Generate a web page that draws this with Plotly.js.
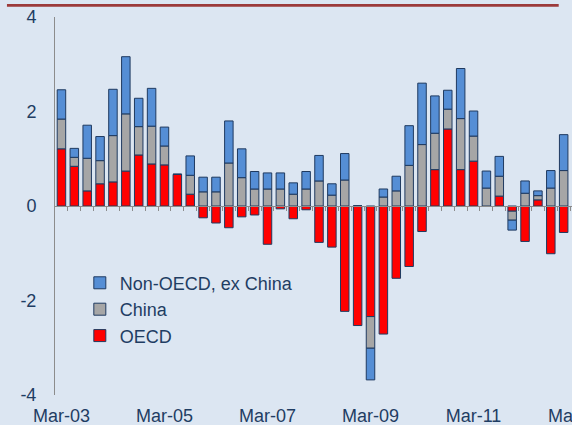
<!DOCTYPE html>
<html>
<head>
<meta charset="utf-8">
<script src="https://cdn.plot.ly/plotly-3.0.1.min.js"></script>
<style>
  html, body { margin: 0; padding: 0; overflow: hidden; background: #DCE6F2; }
  #chart { width: 600px; height: 425px; }
</style>
</head>
<body>
<div id="chart"></div>
<script>
const quarters = ['Mar-03','Jun-03','Sep-03','Dec-03','Mar-04','Jun-04','Sep-04','Dec-04',
  'Mar-05','Jun-05','Sep-05','Dec-05','Mar-06','Jun-06','Sep-06','Dec-06',
  'Mar-07','Jun-07','Sep-07','Dec-07','Mar-08','Jun-08','Sep-08','Dec-08',
  'Mar-09','Jun-09','Sep-09','Dec-09','Mar-10','Jun-10','Sep-10','Dec-10',
  'Mar-11','Jun-11','Sep-11','Dec-11','Mar-12','Jun-12','Sep-12','Dec-12'];

const oecd = [1.21, 0.84, 0.32, 0.47, 0.51, 0.74, 1.08, 0.89, 0.87, 0.67,
  0.25, -0.25, -0.36, -0.46, -0.23, -0.19, -0.81, -0.06, -0.27, -0.08,
  -0.77, -0.87, -2.23, -2.53, -2.34, -2.71, -1.53, -1.28, -0.54, 0.77,
  1.63, 0.77, 0.95, -0.01, 0.21, -0.11, -0.75, 0.13, -1.01, -0.56];

const china = [0.63, 0.19, 0.69, 0.49, 0.98, 1.21, 0.60, 0.80, 0.40, 0,
  0.40, 0.30, 0.30, 0.91, 0.60, 0.36, 0.36, 0.36, 0.25, 0.36,
  0.53, 0.23, 0.55, 0, -0.67, 0.19, 0.32, 0.86, 1.30, 0.77,
  0.42, 1.08, 0.53, 0.38, 0.42, -0.19, 0.27, 0.09, 0.38, 0.75];

const nonOecd = [0.62, 0.19, 0.70, 0.51, 0.98, 1.21, 0.60, 0.80, 0.40, 0,
  0.41, 0.31, 0.31, 0.89, 0.61, 0.37, 0.34, 0.34, 0.24, 0.37,
  0.54, 0.24, 0.56, 0, -0.67, 0.17, 0.31, 0.84, 1.30, 0.79,
  0.40, 1.06, 0.53, 0.36, 0.42, -0.21, 0.26, 0.10, 0.37, 0.76];

const tickLabels = ['Mar-03','Mar-05','Mar-07','Mar-09','Mar-11','Mar-13'];
const tickPositions = [0, 8, 16, 24, 32, 40];
const yTicks = [-4, -2, 0, 2, 4];
const yTickLabels = ['-4', '-2', '0', '2', '4'];

const xIdx = quarters.map((q, i) => i);
const boundaryTicks = quarters.map((q, i) => i + 0.5);

const textColor = '#1F3D63';
const outline = '#1F3A60';
const font = { family: 'Liberation Sans, Arial, sans-serif', size: 18, color: textColor };

function barTrace(name, values, color, rank) {
  return {
    type: 'bar', name: name, legendgroup: name, legendrank: rank,
    x: xIdx, y: values, customdata: quarters,
    marker: { color: color, line: { color: outline, width: 1 } },
    hovertemplate: '%{customdata}: %{y}<extra></extra>'
  };
}

const data = [
  barTrace('OECD', oecd, '#FF0000', 3),
  barTrace('China', china, '#A6A6A6', 2),
  barTrace('Non-OECD, ex China', nonOecd, '#558ED5', 1),
  { type: 'scatter', mode: 'markers', x: [0], y: [0], xaxis: 'x2', yaxis: 'y',
    marker: { opacity: 0 }, showlegend: false, hoverinfo: 'skip' }
];

const layout = {
  width: 600, height: 425,
  margin: { l: 55, r: 17, t: 17, b: 30 },
  paper_bgcolor: '#DCE6F2',
  plot_bgcolor: '#DCE6F2',
  font: font,
  barmode: 'relative',
  bargap: 0.34,
  showlegend: true,
  legend: {
    x: 0.047, xanchor: 'left', y: 0.345, yanchor: 'top',
    traceorder: 'grouped', tracegroupgap: 0, bgcolor: 'rgba(0,0,0,0)',
    font: font
  },
  xaxis: {
    range: [-0.5, 40.5], tickmode: 'array', tickvals: tickPositions, ticktext: tickLabels,
    showline: false, showgrid: false, zeroline: false,
    ticks: 'outside', ticklen: 4, tickcolor: 'rgba(0,0,0,0)',
    ticklabeloverflow: 'allow',
    tickfont: font
  },
  xaxis2: {
    overlaying: 'x', anchor: 'free', position: 0.5, range: [-0.5, 40.5],
    tickmode: 'array', tickvals: boundaryTicks, ticks: 'outside', ticklen: 4,
    tickcolor: '#8C8C8C', tickwidth: 1, showticklabels: false,
    showline: true, linecolor: '#8C8C8C', linewidth: 1,
    showgrid: false, zeroline: false
  },
  yaxis: {
    range: [-4, 4], tickmode: 'array', tickvals: yTicks, ticktext: yTickLabels,
    showline: true, linecolor: '#8C8C8C', linewidth: 1,
    showgrid: false, zeroline: false,
    ticks: 'outside', ticklen: 14, tickcolor: 'rgba(0,0,0,0)',
    tickfont: font
  },
  shapes: [
    { type: 'line', xref: 'paper', yref: 'paper', x0: -0.091, x1: 0.954, y0: 1.031, y1: 1.031,
      line: { color: '#9C3A3A', width: 2.7 } }
  ]
};

Plotly.newPlot('chart', data, layout, { staticPlot: true, displayModeBar: false });
</script>
</body>
</html>
